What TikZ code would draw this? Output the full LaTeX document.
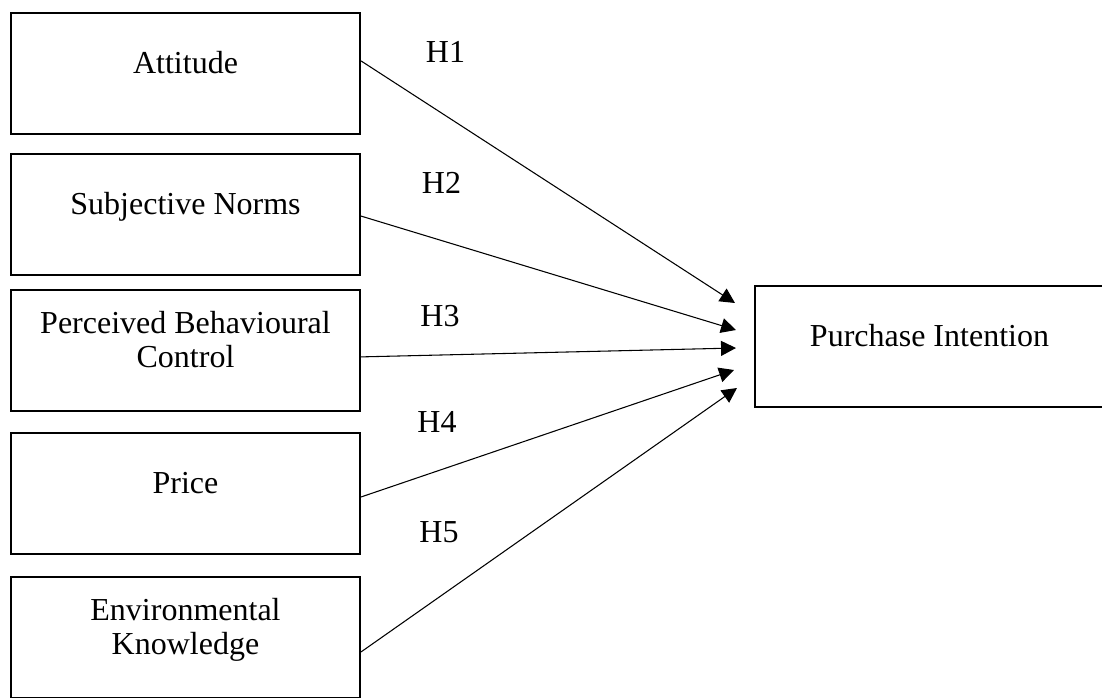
\documentclass[tikz,border=0pt]{standalone}
\usepackage{fontspec}
\setmainfont{Liberation Serif}
\usetikzlibrary{arrows.meta}

\tikzset{
  construct/.style={draw,line width=0.8pt,minimum width=130.9pt,minimum height=45.4pt,
    align=center,inner sep=0pt,text height=6pt,text depth=6pt,font=\fontsize{12}{13.1}\selectfont},
  twoline/.style={construct,text height=16pt,text depth=2.9pt},
  hyp/.style={inner sep=0pt,font=\fontsize{12}{13.1}\selectfont}
}

\begin{document}
\begin{tikzpicture}[x=0.375pt,y=-0.375pt,>={Triangle[length=5.6pt,width=5.6pt]}]
    \useasboundingbox (0,0) rectangle (1102,698);
    \clip (0,0) rectangle (1102,698);
    \node[construct] (att) at (185.5,73.5)  {Attitude} ;
    \node[construct] (sn)  at (185.5,214.5) {Subjective Norms} ;
    \node[twoline]   (pbc) at (185.5,350.5) {Perceived Behavioural\\Control} ;
    \node[construct] (pr)  at (185.5,493.5) {Price} ;
    \node[twoline]   (ek)  at (185.5,637.5) {Environmental\\Knowledge} ;
    \node[construct] (pi)  at (929.5,346.5) {Purchase Intention} ;
    % arrow tips stop short of the outcome box
    \coordinate (in1) at (735,303) ;
    \coordinate (in2) at (736,330) ;
    \coordinate (in3) at (736,348) ;
    \coordinate (in4) at (734,370) ;
    \coordinate (in5) at (737,388) ;
    \draw[->] ([yshift=4.7pt]att.east)  -- (in1) ;
    \draw[->] ([yshift=-0.6pt]sn.east)  -- (in2) ;
    \draw[->] ([yshift=-2.4pt]pbc.east) -- (in3) ;
    \draw[->] ([yshift=-1.3pt]pr.east)  -- (in4) ;
    \draw[->] ([yshift=-5.4pt]ek.east)  -- (in5) ;
    \node[hyp] (h1) at (445.5,51.5) {H1} ;
    \node[hyp] (h2) at (441.5,183)  {H2} ;
    \node[hyp] (h3) at (440,316)    {H3} ;
    \node[hyp] (h4) at (437,422)    {H4} ;
    \node[hyp] (h5) at (439,532)    {H5} ;
  \end{tikzpicture}
\end{document}
